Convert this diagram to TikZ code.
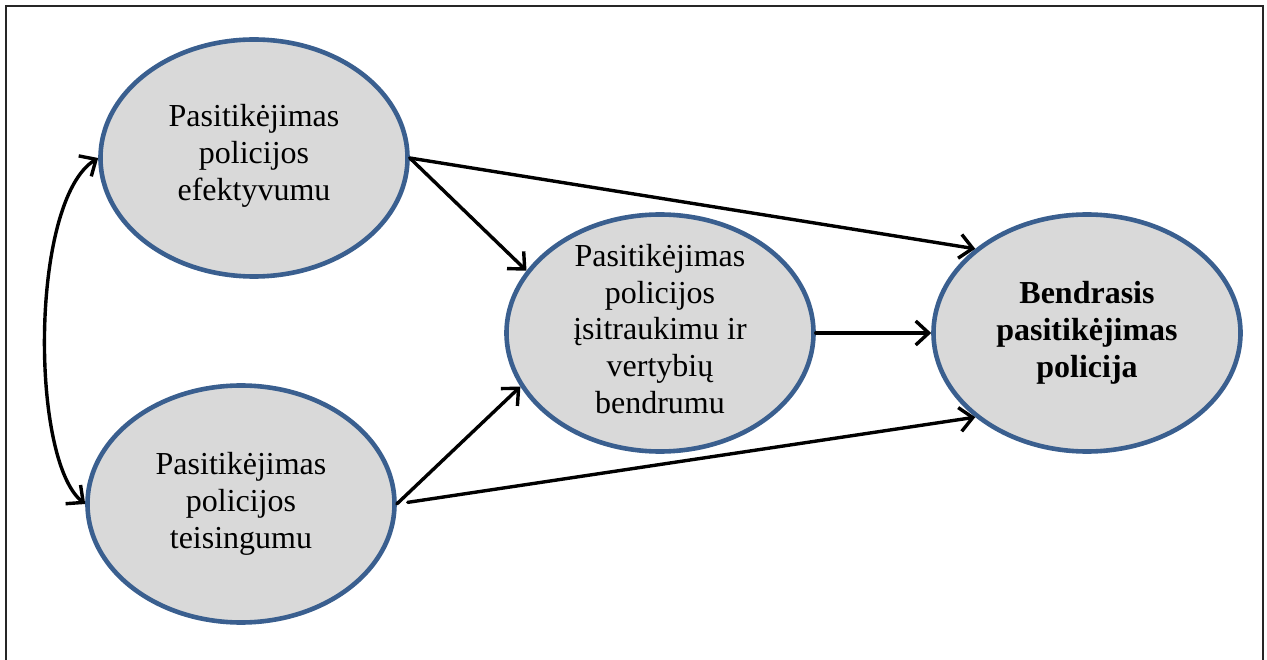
\documentclass[tikz,border=0pt]{standalone}
\usepackage{fontspec}
\setmainfont{Liberation Serif}
\usetikzlibrary{shapes.geometric,arrows.meta}
\definecolor{ovalblue}{HTML}{3A5F8F}
\definecolor{ovalfill}{HTML}{D9D9D9}
\begin{document}
\begin{tikzpicture}[x=1pt,y=-1pt,
 oval/.style={ellipse,draw=ovalblue,fill=ovalfill,line width=4.6pt,minimum width=307pt,minimum height=237pt,inner sep=0pt},
 txt/.style={align=center,font=\fontsize{32}{36.7}\selectfont,inner sep=0pt},
 conn/.style={line width=3.4pt,line cap=round,line join=round,-{Straight Barb[length=13pt,width=24pt]}},
 twoway/.style={line width=3.4pt,line cap=round,line join=round,{Straight Barb[length=13pt,width=24pt]}-{Straight Barb[length=13pt,width=24pt]}},
]
\useasboundingbox (0,0) rectangle (1267,660);
\draw[line width=2pt,draw=black!85] (6,6) rectangle (1263,700);
% ovals
\node[oval] (e) at (254,158) {};
\node[oval] (b) at (241,504) {};
\node[oval] (m) at (660,333) {};
\node[oval] (r) at (1087,333) {};
% texts
\node[txt] (et) at ([yshift=2pt]e.center) {Pasitikėjimas\\policijos\\efektyvumu};
\node[txt] (bt) at (b) {Pasitikėjimas\\policijos\\teisingumu};
\node[txt] (mt) at ([yshift=4pt]m.center) {Pasitikėjimas\\policijos\\įsitraukimu ir\\vertybių\\bendrumu};
\node[txt,font=\fontsize{32}{36.7}\selectfont\bfseries] (rt) at (r) {Bendrasis\\pasitikėjimas\\policija};
% connectors
\draw[conn] (e.east) -- (r.143);
\draw[conn] (e.east) -- (m.155);
\draw[conn] (b.east) -- (m.201);
\draw[conn,shorten <=11pt] (b.east) -- (r.217);
\draw[conn] (m.east) -- (r.west);
\draw[twoway] (e.west) .. controls (30,200) and (30,460) .. (b.west);
\end{tikzpicture}
\end{document}
